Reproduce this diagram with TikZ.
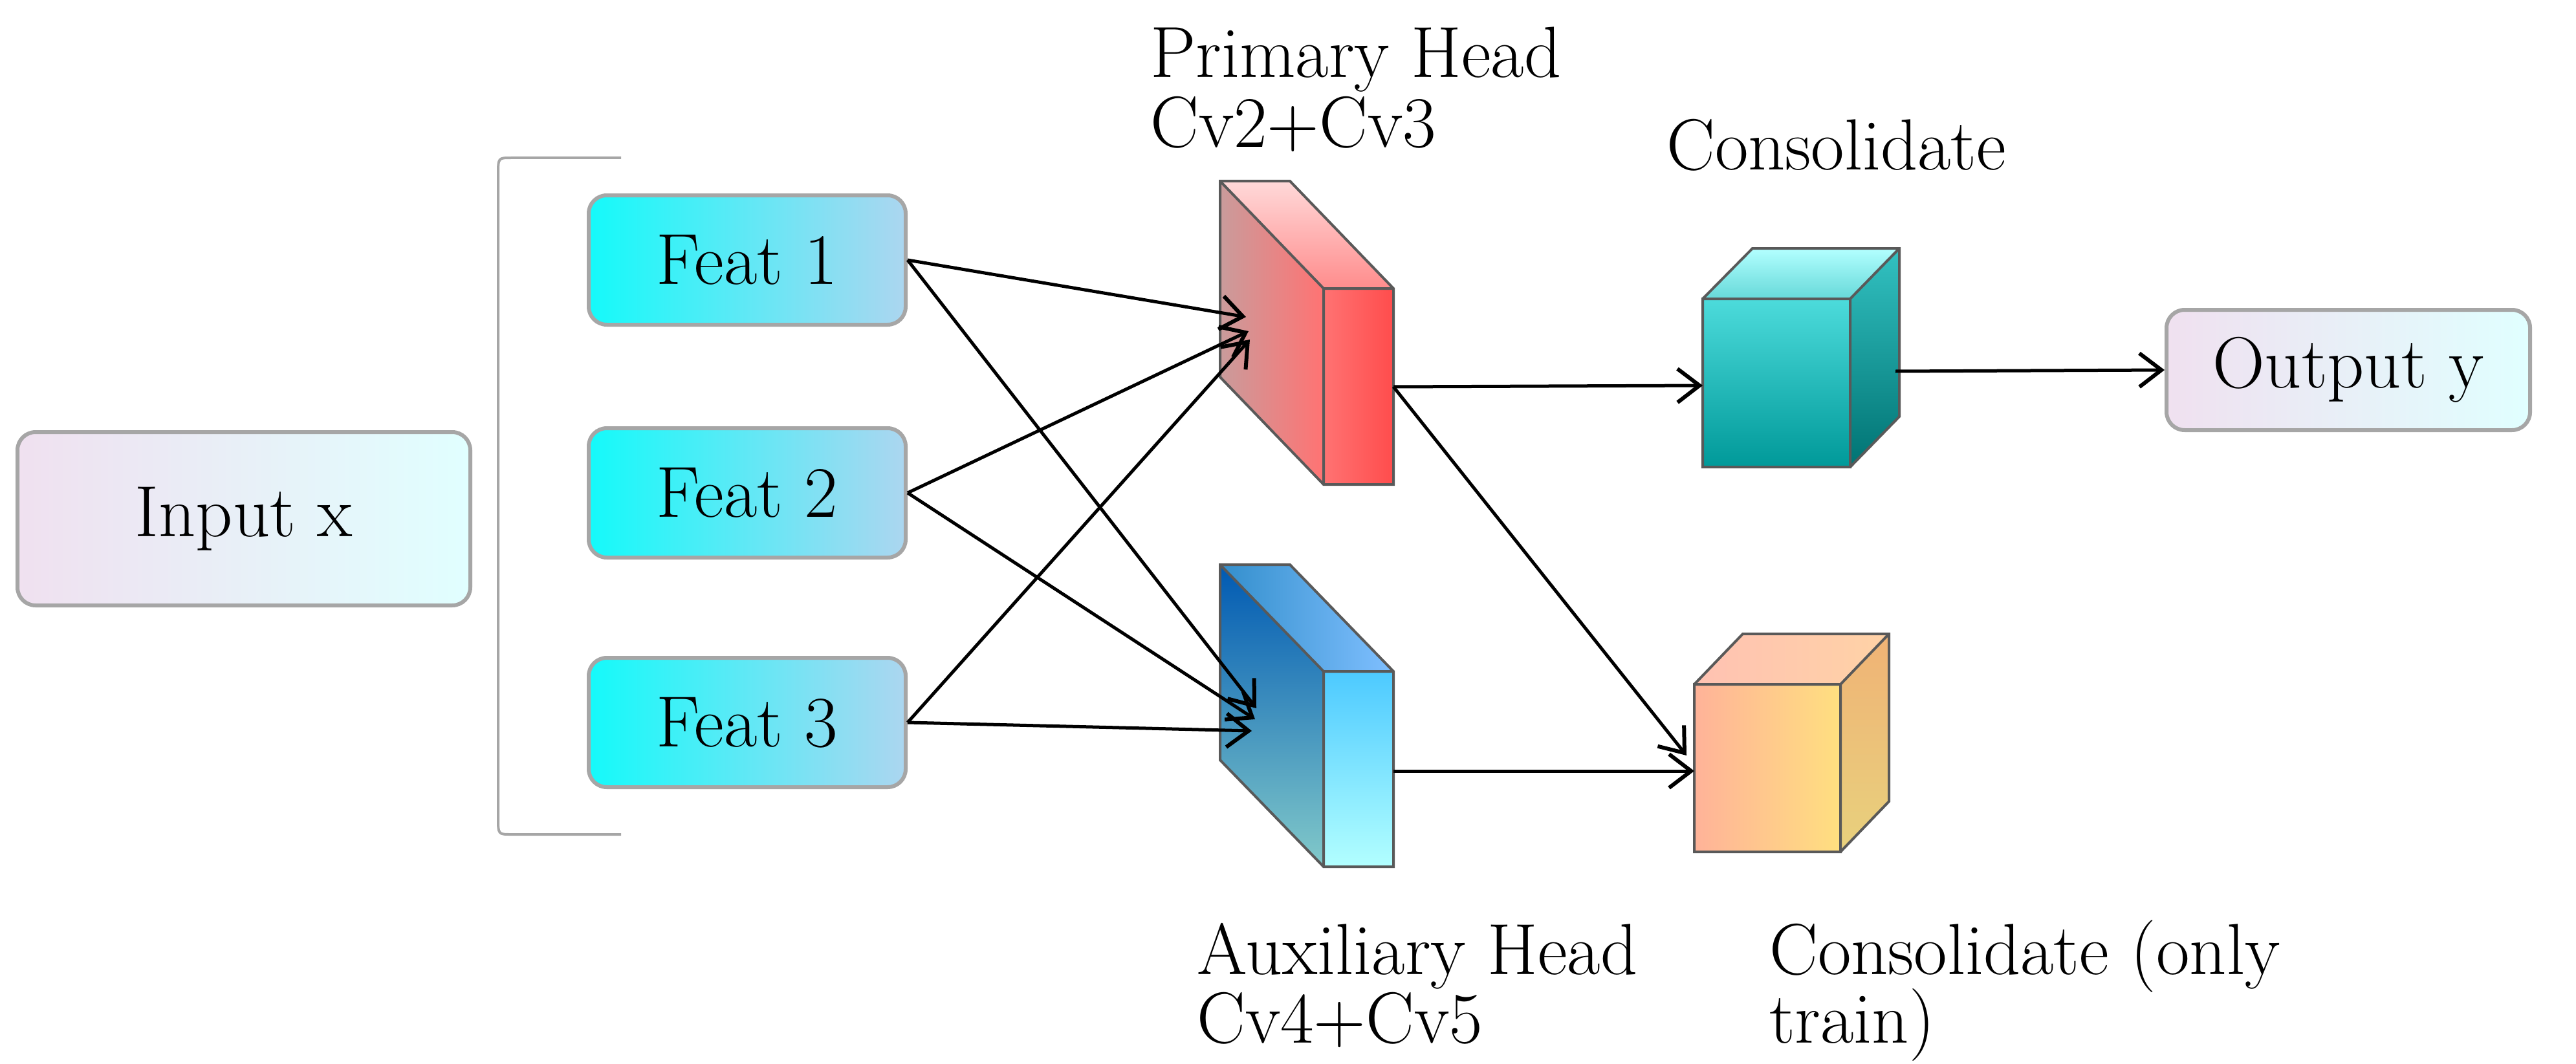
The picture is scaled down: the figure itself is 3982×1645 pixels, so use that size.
\documentclass[tikz,border=0pt]{standalone}
\usetikzlibrary{arrows.meta}
\definecolor{featL}{RGB}{20,250,250}
\definecolor{featR}{RGB}{172,214,240}
\begin{document}
\begin{tikzpicture}[x=1pt,y=-1pt,
  lbl/.style={font=\fontsize{112}{134}\selectfont,inner sep=0pt,anchor=base west},
  box/.style={draw=gray!70,line width=6pt,rounded corners=28pt,minimum height=200pt,inner sep=0pt,font=\fontsize{112}{134}\selectfont},
  feat/.style={box,minimum width=490pt,left color=featL,right color=featR},
  io/.style={box,left color=violet!12,right color=cyan!12},
  arr/.style={-{Straight Barb[length=34pt,width=52pt,line width=6pt]},line width=5pt},
  edge/.style={draw=gray!70!black,line width=4pt}]
\useasboundingbox (0,0) rectangle (3982,1645);
\node[io,minimum width=700pt,minimum height=268pt] (inp) at (377,802) {Input x};
\node[io,minimum width=562pt,minimum height=186pt] (out) at (3630,572) {Output y};
\node[feat] (f1) at (1155,402) {Feat 1};
\node[feat] (f2) at (1155,762) {Feat 2};
\node[feat] (f3) at (1155,1117) {Feat 3};
\draw[gray!70,line width=4pt] (960,244) -- (790,244) .. controls (770,244) .. (770,270) -- (770,1264) .. controls (770,1290) .. (790,1290) -- (960,1290);
% red block
\fill[left color=red!30!gray!60,right color=red!55!white] (1886,280) -- (2046,446) -- (2046,749) -- (1886,583) -- cycle;
\fill[top color=pink!60,bottom color=red!45] (1886,280) -- (1994,280) -- (2154,446) -- (2046,446) -- cycle;
\fill[left color=red!55!white,right color=red!70!white] (2046,446) rectangle (2154,749);
\draw[edge] (1886,280) -- (1994,280) -- (2154,446) -- (2154,749) -- (2046,749) -- (1886,583) -- cycle (1886,280) -- (2046,446) -- (2154,446) (2046,446) -- (2046,749);
\coordinate (red) at (2154,598);
% blue block
\fill[top color=blue!50!cyan!70!black,bottom color=cyan!40!gray!70] (1886,873) -- (2046,1038) -- (2046,1340) -- (1886,1175) -- cycle;
\fill[left color=blue!40!cyan!60!gray,right color=cyan!50!blue!50] (1886,873) -- (1994,873) -- (2154,1038) -- (2046,1038) -- cycle;
\fill[top color=cyan!70!blue!70,bottom color=cyan!30] (2046,1038) rectangle (2154,1340);
\draw[edge] (1886,873) -- (1994,873) -- (2154,1038) -- (2154,1340) -- (2046,1340) -- (1886,1175) -- cycle (1886,873) -- (2046,1038) -- (2154,1038) (2046,1038) -- (2046,1340);
\coordinate (blue) at (2154,1192);
% teal cube
\fill[top color=cyan!60!teal!70,bottom color=teal!80!cyan] (2632,462) rectangle (2860,722);
\fill[top color=cyan!30,bottom color=cyan!50!teal!60] (2632,462) -- (2709,384) -- (2936,384) -- (2860,462) -- cycle;
\fill[top color=teal!60!cyan!80,bottom color=teal!90!black] (2860,462) -- (2936,384) -- (2936,644) -- (2860,722) -- cycle;
\draw[edge] (2632,462) rectangle (2860,722) (2632,462) -- (2709,384) -- (2936,384) -- (2936,644) -- (2860,722) (2860,462) -- (2936,384);
\coordinate (teal) at (2632,596);
\coordinate (tealR) at (2930,574);
% orange cube
\fill[left color=orange!50!red!40,right color=yellow!50!orange!50] (2619,1058) rectangle (2845,1317);
\fill[left color=orange!40!red!30,right color=orange!35] (2619,1058) -- (2694,980) -- (2920,980) -- (2845,1058) -- cycle;
\fill[top color=orange!60!brown!60,bottom color=yellow!40!brown!60] (2845,1058) -- (2920,980) -- (2920,1239) -- (2845,1317) -- cycle;
\draw[edge] (2619,1058) rectangle (2845,1317) (2619,1058) -- (2694,980) -- (2920,980) -- (2920,1239) -- (2845,1317) (2845,1058) -- (2920,980);
\coordinate (orA) at (2607,1168);
\coordinate (orB) at (2619,1192);
% arrow targets
\coordinate (r1) at (1926,490); \coordinate (r2) at (1930,512); \coordinate (r3) at (1932,525);
\coordinate (b1) at (1942,1095); \coordinate (b2) at (1940,1112); \coordinate (b3) at (1935,1130);
\draw[arr] (f1.east) -- (r1);
\draw[arr] (f2.east) -- (r2);
\draw[arr] (f3.east) -- (r3);
\draw[arr] (f1.east) -- (b1);
\draw[arr] (f2.east) -- (b2);
\draw[arr] (f3.east) -- (b3);
\draw[arr] (red) -- (teal);
\draw[arr] (red) -- (orA);
\draw[arr] (blue) -- (orB);
\draw[arr] (tealR) -- (out.west);
% labels
\node[lbl] (t1) at (1778,120) {Primary Head};
\node[lbl] (t2) at (1778,228) {Cv2+Cv3};
\node[lbl] (t3) at (2576,262) {Consolidate};
\node[lbl] (t4) at (1850,1506) {Auxiliary Head};
\node[lbl] (t5) at (1850,1612) {Cv4+Cv5};
\node[lbl] (t6) at (2735,1506) {Consolidate (only};
\node[lbl] (t7) at (2735,1612) {train)};
\end{tikzpicture}
\end{document}
